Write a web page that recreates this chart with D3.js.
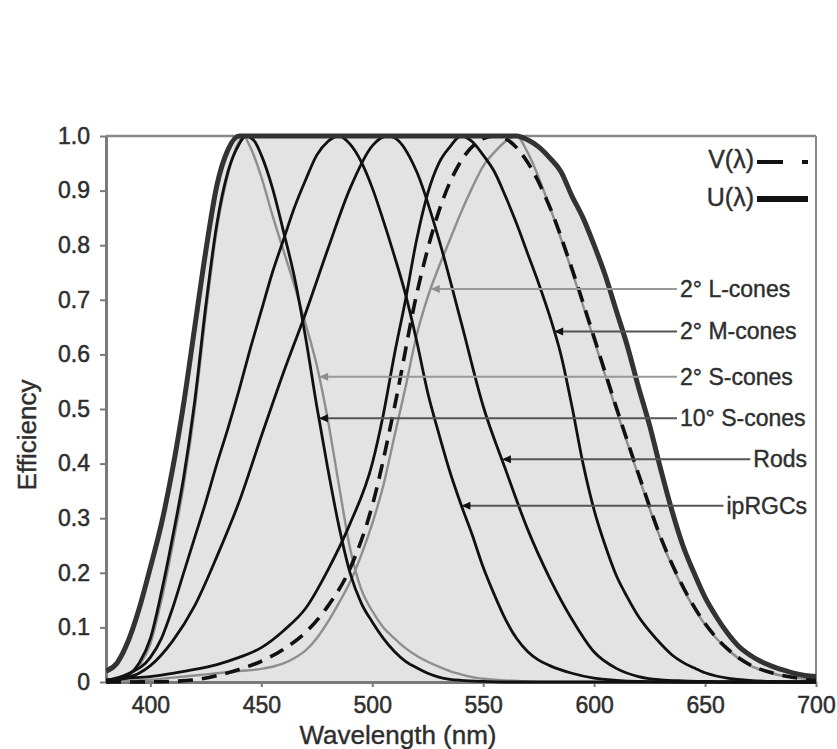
<!DOCTYPE html>
<html>
<head>
<meta charset="utf-8">
<script src="https://cdn.jsdelivr.net/npm/d3@7"></script>
<style>
  body { margin: 0; background: #fff; }
  svg text { font-family: "Liberation Sans", Arial, Helvetica, sans-serif; }
</style>
</head>
<body>
<svg id="chart" width="837" height="749"></svg>
<script>
// ---- data: [wavelength nm, relative efficiency] ----
const xTicks = [400, 450, 500, 550, 600, 650, 700];
const yTicks = [0, 0.1, 0.2, 0.3, 0.4, 0.5, 0.6, 0.7, 0.8, 0.9, 1.0];

// U(λ) envelope
const uLambda = [[380,0.02],[385,0.035],[390,0.075],[395,0.135],[400,0.21],[405,0.29],[410,0.39],[415,0.51],
  [420,0.65],[425,0.79],[430,0.91],[435,0.975],[440,1.0],[565,1.0],[570,0.993],[575,0.98],[580,0.96],
  [585,0.935],[590,0.89],[595,0.85],[600,0.8],[605,0.745],[610,0.68],[615,0.615],[620,0.54],[625,0.47],
  [630,0.39],[635,0.315],[640,0.25],[645,0.2],[650,0.155],[655,0.12],[660,0.09],[665,0.066],[670,0.05],
  [675,0.038],[680,0.029],[685,0.022],[690,0.016],[695,0.012],[700,0.01]];

// V(λ) photopic
const vLambda = [[380,0.00004],[390,0.00012],[400,0.0004],[410,0.0012],[420,0.004],[430,0.0116],[440,0.023],
  [450,0.038],[460,0.06],[470,0.091],[480,0.139],[490,0.208],[500,0.323],[510,0.503],[520,0.71],[530,0.862],
  [540,0.954],[550,0.995],[555,1.0],[560,0.995],[570,0.952],[580,0.87],[590,0.757],[600,0.631],[610,0.503],
  [620,0.381],[630,0.265],[640,0.175],[650,0.107],[660,0.061],[670,0.032],[680,0.017],[690,0.0082],[700,0.0041]];

const lCone = [[380,0.001],[390,0.002],[400,0.004],[410,0.008],[420,0.012],[430,0.016],[440,0.02],[450,0.024],
  [455,0.028],[460,0.034],[465,0.044],[470,0.058],[475,0.08],[480,0.11],[485,0.145],[490,0.183],[495,0.232],
  [500,0.29],[505,0.36],[510,0.45],[515,0.54],[520,0.635],[525,0.705],[530,0.76],[535,0.81],[540,0.86],
  [545,0.905],[550,0.945],[555,0.97],[560,0.99],[565,1.0],[570,0.97],[580,0.87],[590,0.752],[600,0.626],
  [610,0.498],[620,0.377],[630,0.262],[640,0.172],[650,0.105],[660,0.06],[670,0.031],[680,0.016],[690,0.008],
  [700,0.004]];

const mCone = [[380,0.004],[390,0.007],[400,0.01],[410,0.016],[420,0.023],[430,0.032],[440,0.045],[450,0.063],
  [460,0.094],[470,0.135],[480,0.205],[490,0.29],[500,0.4],[505,0.49],[510,0.6],[515,0.7],[520,0.81],
  [525,0.895],[530,0.95],[535,0.98],[540,1.0],[545,0.99],[550,0.965],[555,0.935],[560,0.89],[565,0.84],
  [570,0.785],[575,0.73],[580,0.67],[585,0.6],[590,0.505],[595,0.4],[600,0.315],[605,0.25],[610,0.195],
  [615,0.155],[620,0.12],[625,0.093],[630,0.07],[635,0.05],[640,0.036],[645,0.026],[650,0.017],[655,0.011],
  [660,0.007],[670,0.003],[680,0.001],[690,0],[700,0]];

const sCone2 = [[380,0],[385,0.003],[390,0.01],[395,0.03],[400,0.07],[405,0.15],[410,0.25],[415,0.36],
  [420,0.5],[425,0.675],[430,0.83],[435,0.93],[440,0.99],[442,1.0],[445,0.98],[450,0.925],[455,0.855],
  [460,0.79],[465,0.725],[470,0.655],[475,0.58],[480,0.48],[485,0.36],[490,0.245],[495,0.17],[500,0.13],
  [505,0.1],[510,0.08],[515,0.062],[520,0.048],[525,0.037],[530,0.028],[535,0.02],[540,0.014],[545,0.009],
  [550,0.006],[560,0.003],[570,0.001],[580,0],[700,0]];

const sCone10 = [[380,0],[385,0.003],[390,0.012],[395,0.035],[400,0.08],[405,0.165],[410,0.265],[415,0.375],
  [420,0.515],[425,0.69],[430,0.84],[435,0.935],[440,0.985],[443,1.0],[447,0.99],[450,0.965],[455,0.905],
  [460,0.825],[465,0.74],[470,0.63],[475,0.505],[480,0.39],[485,0.285],[490,0.2],[495,0.145],[500,0.11],
  [505,0.08],[510,0.056],[515,0.038],[520,0.026],[525,0.016],[530,0.009],[535,0.005],[540,0.003],
  [550,0.001],[560,0],[700,0]];

const rods = [[380,0.002],[390,0.008],[400,0.03],[410,0.075],[420,0.14],[430,0.23],[440,0.33],[450,0.45],
  [460,0.567],[470,0.676],[480,0.793],[490,0.904],[500,0.982],[507,1.0],[510,0.997],[520,0.935],[530,0.811],
  [540,0.66],[550,0.505],[560,0.39],[570,0.28],[580,0.19],[590,0.115],[600,0.055],[610,0.025],[620,0.01],
  [630,0.004],[640,0.002],[650,0.001],[660,0],[700,0]];

const ipRGC = [[380,0.003],[390,0.015],[400,0.045],[405,0.08],[410,0.135],[415,0.2],[420,0.265],[425,0.33],
  [430,0.4],[435,0.465],[440,0.535],[445,0.61],[450,0.68],[455,0.75],[460,0.81],[465,0.87],[470,0.92],
  [475,0.965],[480,0.99],[485,1.0],[490,0.985],[495,0.953],[500,0.905],[505,0.845],[510,0.78],[515,0.71],
  [520,0.625],[525,0.53],[530,0.455],[535,0.385],[540,0.325],[545,0.27],[550,0.21],[555,0.16],[560,0.115],
  [565,0.08],[570,0.056],[575,0.04],[580,0.03],[590,0.016],[600,0.007],[610,0.003],[620,0.001],[640,0],[700,0]];

// callout labels, the efficiency level of their leader, and which flank they point at
const labelNames  = ['2° L-cones', '2° M-cones', '2° S-cones', '10° S-cones', 'Rods', 'ipRGCs'];
const labelLevels = [0.72, 0.642, 0.559, 0.483, 0.408, 0.323];
const labelSides  = ['rise', 'fall', 'fall', 'fall', 'fall', 'fall'];

// ---- chart ----
const W = 837, H = 749;
const plot = {left: 106, right: 816, top: 136, bottom: 682};
const svg = d3.select('#chart');

const x = d3.scaleLinear().domain([380, 700]).range([plot.left, plot.right]);
const y = d3.scaleLinear().domain([0, 1]).range([plot.bottom, plot.top]);

svg.append('rect').attr('width', W).attr('height', H).attr('fill', '#fff');

svg.append('defs').append('clipPath').attr('id', 'clip')
  .append('rect')
  .attr('x', plot.left).attr('y', plot.top - 6)
  .attr('width', plot.right - plot.left).attr('height', plot.bottom - plot.top + 10);

const area = d3.area().x(d => x(d[0])).y0(y(0)).y1(d => y(d[1])).curve(d3.curveMonotoneX);
const line = d3.line().x(d => x(d[0])).y(d => y(d[1])).curve(d3.curveMonotoneX);

// grey fill under U(λ)
svg.append('path').datum(uLambda)
  .attr('d', area).attr('fill', '#e3e3e3').attr('clip-path', 'url(#clip)');

// frame top + right
svg.append('line').attr('x1', plot.left).attr('x2', plot.right).attr('y1', y(1)).attr('y2', y(1))
  .attr('stroke', '#888').attr('stroke-width', 2.5);
svg.append('line').attr('x1', plot.right).attr('x2', plot.right).attr('y1', y(1)).attr('y2', y(0))
  .attr('stroke', '#888').attr('stroke-width', 2);

// axes
const yAxis = d3.axisLeft(y).tickValues(yTicks)
  .tickFormat(d => d === 0 ? '0' : d.toFixed(1))
  .tickSize(6).tickPadding(10).tickSizeOuter(0);
const xAxis = d3.axisBottom(x).tickValues(xTicks)
  .tickSize(5).tickPadding(10).tickSizeOuter(0);

const ya = svg.append('g').attr('transform', `translate(${plot.left},0)`).call(yAxis);
const xa = svg.append('g').attr('transform', `translate(0,${plot.bottom})`).call(xAxis);
[ya, xa].forEach(a => {
  a.attr('font-family', null).attr('font-size', null);
  a.select('.domain').attr('stroke', '#7a7a7a').attr('stroke-width', 3);
  a.selectAll('.tick line').attr('stroke', '#7a7a7a').attr('stroke-width', 2);
  a.selectAll('.tick text').attr('font-size', 23).attr('fill', '#2e2e2e')
    .attr('stroke', '#2e2e2e').attr('stroke-width', 0.5);
});

// curves
const series = [
  {data: sCone2,  stroke: '#8e8e8e', width: 2.4},
  {data: lCone,   stroke: '#8e8e8e', width: 2.4},
  {data: sCone10, stroke: '#111',    width: 2.8},
  {data: ipRGC,   stroke: '#111',    width: 2.8},
  {data: rods,    stroke: '#111',    width: 2.8},
  {data: mCone,   stroke: '#111',    width: 2.8},
  {data: vLambda, stroke: '#111',    width: 3.6, dash: '15,9'},
  {data: uLambda, stroke: '#333',    width: 5}
];

svg.append('g').attr('clip-path', 'url(#clip)')
  .selectAll('path')
  .data(series)
  .enter()
  .append('path')
  .attr('d', d => line(d.data))
  .attr('fill', 'none')
  .attr('stroke', d => d.stroke)
  .attr('stroke-width', d => d.width)
  .attr('stroke-dasharray', d => d.dash || null)
  .attr('stroke-linejoin', 'round');

// where a curve crosses a level on its rising or falling flank
function crossing(data, level, side) {
  const peak = d3.maxIndex(data, d => d[1]);
  if (side === 'rise') {
    for (let i = 0; i < peak; i++) {
      const a = data[i], b = data[i + 1];
      if (a[1] <= level && b[1] >= level) return a[0] + (level - a[1]) / (b[1] - a[1]) * (b[0] - a[0]);
    }
  } else {
    for (let i = peak; i < data.length - 1; i++) {
      const a = data[i], b = data[i + 1];
      if (a[1] >= level && b[1] <= level) return a[0] + (a[1] - level) / (a[1] - b[1]) * (b[0] - a[0]);
    }
  }
  return null;
}

const labelCurves = [lCone, mCone, sCone2, sCone10, rods, ipRGC];
const labelGrey   = [true, false, true, false, false, false];
const callouts = svg.append('g');

labelNames.forEach((name, i) => {
  const yy = y(labelLevels[i]);
  const leftAligned = i < 4;
  const txt = callouts.append('text')
    .attr('x', leftAligned ? 680 : 807)
    .attr('y', yy + 8)
    .attr('text-anchor', leftAligned ? 'start' : 'end')
    .attr('font-size', 23)
    .attr('fill', '#2e2e2e').attr('stroke', '#2e2e2e').attr('stroke-width', 0.4)
    .text(name);
  const textStart = leftAligned ? 680 : 807 - txt.node().getComputedTextLength();
  const tip = x(crossing(labelCurves[i], labelLevels[i], labelSides[i]));
  const col = labelGrey[i] ? '#999' : '#555';
  callouts.insert('line', 'text')
    .attr('x1', tip + 2).attr('x2', textStart - 3)
    .attr('y1', yy).attr('y2', yy)
    .attr('stroke', col).attr('stroke-width', 2);
  callouts.append('path')
    .attr('d', `M${tip},${yy} L${tip + 9},${yy - 4} L${tip + 9},${yy + 4} Z`)
    .attr('fill', labelGrey[i] ? '#8e8e8e' : '#111');
});

// legend
const legend = svg.append('g');
legend.append('text').attr('x', 754).attr('y', 168).attr('text-anchor', 'end')
  .attr('font-size', 25).attr('fill', '#2e2e2e').attr('stroke', '#2e2e2e').attr('stroke-width', 0.4)
  .text('V(λ)');
legend.append('line').attr('x1', 757).attr('x2', 808).attr('y1', 162).attr('y2', 162)
  .attr('stroke', '#111').attr('stroke-width', 4).attr('stroke-dasharray', '26,19');
legend.append('text').attr('x', 754).attr('y', 206).attr('text-anchor', 'end')
  .attr('font-size', 25).attr('fill', '#2e2e2e').attr('stroke', '#2e2e2e').attr('stroke-width', 0.4)
  .text('U(λ)');
legend.append('line').attr('x1', 757).attr('x2', 808).attr('y1', 199).attr('y2', 199)
  .attr('stroke', '#111').attr('stroke-width', 6);

// axis titles
svg.append('text').attr('x', 398).attr('y', 744).attr('text-anchor', 'middle')
  .attr('font-size', 26).attr('fill', '#2e2e2e').attr('stroke', '#2e2e2e').attr('stroke-width', 0.4)
  .text('Wavelength (nm)');
svg.append('text').attr('transform', 'translate(36,435) rotate(-90)').attr('text-anchor', 'middle')
  .attr('font-size', 26).attr('fill', '#2e2e2e').attr('stroke', '#2e2e2e').attr('stroke-width', 0.4)
  .text('Efficiency');
</script>
</body>
</html>
